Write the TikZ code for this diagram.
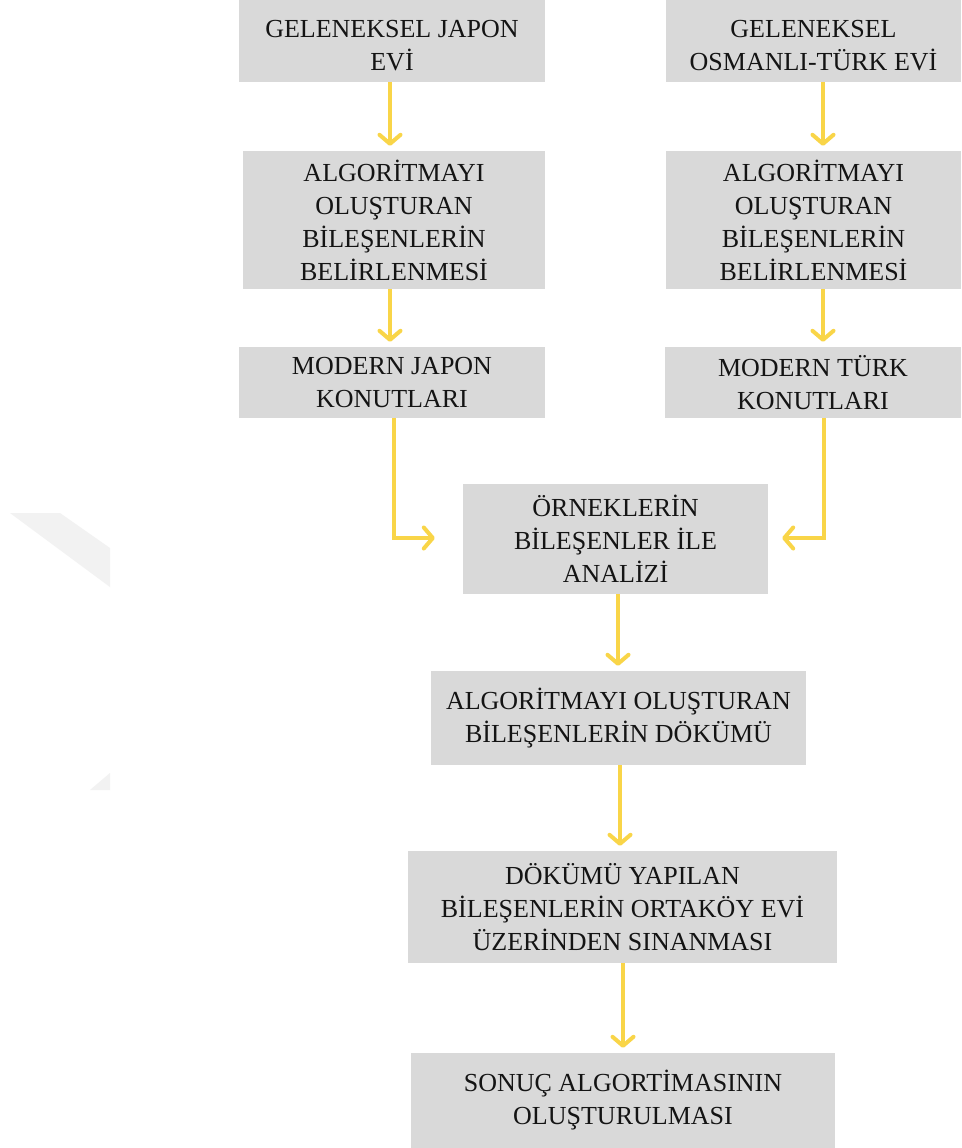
\documentclass[tikz,border=0pt]{standalone}
\usepackage{fontspec}
\setmainfont{Liberation Serif}
\usetikzlibrary{arrows.meta,calc}
\definecolor{boxgray}{HTML}{D9D9D9}
\definecolor{arrowyellow}{HTML}{F9D548}
\definecolor{wmgray}{HTML}{F2F2F2}
\definecolor{txt}{HTML}{141414}
\begin{document}
\begin{tikzpicture}[x=1pt,y=-1pt,
  stepbox/.style={fill=boxgray,draw=none,inner sep=0pt,align=center,text=txt,
    font=\fontsize{26}{33}\selectfont},
  flow/.style={draw=arrowyellow,line width=4pt,shorten >=5pt,
    -{Straight Barb[length=9pt,width=21pt,line cap=round,line join=round]}}]
\useasboundingbox (0,0) rectangle (961,1148);
\fill[white] (0,0) rectangle (961,1148);
% watermark
\fill[wmgray] (10,513) -- (60,513) -- (110,548) -- (110,587) -- cycle;
\fill[wmgray] (90,790) -- (110,773) -- (110,790) -- cycle;
% boxes
\node[stepbox,minimum width=306pt,minimum height=82pt] (b1) at (392,41) {\rule{0pt}{27pt}GELENEKSEL JAPON\\EVİ};
\node[stepbox,minimum width=295pt,minimum height=82pt] (b2) at (813.5,41) {\rule{0pt}{27pt}GELENEKSEL\\OSMANLI-TÜRK EVİ};
\node[stepbox,minimum width=302pt,minimum height=138pt] (b3) at (394,220) {ALGORİTMAYI\\OLUŞTURAN\\BİLEŞENLERİN\\BELİRLENMESİ};
\node[stepbox,minimum width=295pt,minimum height=138pt] (b4) at (813.5,220) {ALGORİTMAYI\\OLUŞTURAN\\BİLEŞENLERİN\\BELİRLENMESİ};
\node[stepbox,minimum width=306pt,minimum height=71pt] (b5) at (392,382.5) {MODERN JAPON\\KONUTLARI};
\node[stepbox,minimum width=296pt,minimum height=71pt] (b6) at (813,382.5) {MODERN TÜRK\\KONUTLARI};
\node[stepbox,minimum width=305pt,minimum height=110pt] (b7) at (615.5,539) {ÖRNEKLERİN\\BİLEŞENLER İLE\\ANALİZİ};
\node[stepbox,minimum width=375pt,minimum height=94pt] (b8) at (618.5,718) {ALGORİTMAYI OLUŞTURAN\\BİLEŞENLERİN DÖKÜMÜ};
\node[stepbox,minimum width=429pt,minimum height=112pt] (b9) at (622.5,907) {DÖKÜMÜ YAPILAN\\BİLEŞENLERİN ORTAKÖY EVİ\\ÜZERİNDEN SINANMASI};
\node[stepbox,minimum width=424pt,minimum height=95pt] (b10) at (623,1100.5) {SONUÇ ALGORTİMASININ\\OLUŞTURULMASI};
% connectors
\draw[flow] ([xshift=-2pt]b1.south) -- ([xshift=-2pt]b1.south |- b3.north);
\draw[flow] ([xshift=9.5pt]b2.south) -- ([xshift=9.5pt]b2.south |- b4.north);
\draw[flow] ([xshift=-4pt]b3.south) -- ([xshift=-4pt]b3.south |- b5.north);
\draw[flow] ([xshift=9.5pt]b4.south) -- ([xshift=9.5pt]b4.south |- b6.north);
\draw[flow,shorten >=0pt] ([xshift=2pt]b5.south) |- ([xshift=-28pt,yshift=1pt]b7.west);
\draw[flow,shorten >=0pt] ([xshift=11pt]b6.south) |- ([xshift=14pt,yshift=1pt]b7.east);
\draw[flow] ([xshift=2.5pt]b7.south) -- ([xshift=2.5pt]b7.south |- b8.north);
\draw[flow] ([xshift=1.5pt]b8.south) -- ([xshift=1.5pt]b8.south |- b9.north);
\draw[flow] ([xshift=0.5pt]b9.south) -- ([xshift=0.5pt]b9.south |- b10.north);
\end{tikzpicture}
\end{document}
